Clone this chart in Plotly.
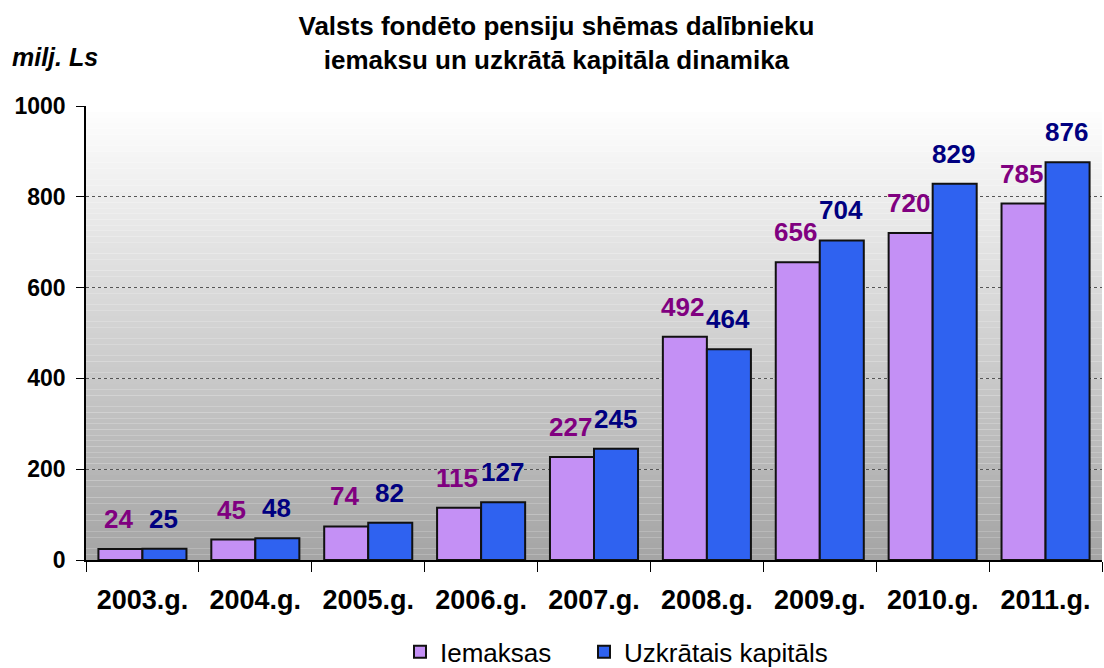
import plotly.graph_objects as go

categories = ["2003.g.", "2004.g.", "2005.g.", "2006.g.", "2007.g.", "2008.g.", "2009.g.", "2010.g.", "2011.g."]
iemaksas = [24, 45, 74, 115, 227, 492, 656, 720, 785]
kapitals = [25, 48, 82, 127, 245, 464, 704, 829, 876]
y_ticks = [0, 200, 400, 600, 800, 1000]

FONT = "Liberation Sans, Arial, sans-serif"
PURPLE_TXT = "#800080"
NAVY_TXT = "#000080"

fig = go.Figure()
fig.add_trace(go.Bar(
    x=categories, y=iemaksas, name="Iemaksas", legend="legend",
    marker=dict(color="#C490F5", line=dict(color="#111111", width=2)),
))
fig.add_trace(go.Bar(
    x=categories, y=kapitals, name="Uzkrātais kapitāls", legend="legend2",
    marker=dict(color="#2F62F0", line=dict(color="#111111", width=2)),
))

# value labels above bars
annotations = []
for cat, v in zip(categories, iemaksas):
    annotations.append(dict(
        x=cat, y=v, xref="x", yref="y", text=f"<b>{v}</b>", showarrow=False,
        xanchor="center", yanchor="bottom", xshift=-24, yshift=13,
        font=dict(family=FONT, size=26, color=PURPLE_TXT),
    ))
for cat, v in zip(categories, kapitals):
    annotations.append(dict(
        x=cat, y=v, xref="x", yref="y", text=f"<b>{v}</b>", showarrow=False,
        xanchor="center", yanchor="bottom", xshift=21, yshift=13,
        font=dict(family=FONT, size=26, color=NAVY_TXT),
    ))
annotations.append(dict(
    text="<b><i>milj. Ls</i></b>", xref="paper", yref="paper",
    x=-0.075, y=1.108, xanchor="left", yanchor="middle", showarrow=False,
    font=dict(family=FONT, size=25, color="black"),
))

# gradient background for plot area
shapes = []
n = 80
for i in range(n):
    t = i / (n - 1)
    c = int(255 - t * (255 - 165))
    shapes.append(dict(
        type="rect", xref="paper", yref="paper",
        x0=0, x1=1, y0=1 - (i + 1) / n, y1=1 - i / n,
        fillcolor=f"rgb({c},{c},{c})", line=dict(width=0), layer="below",
    ))

legend_font = dict(family=FONT, size=26, color="black")
fig.update_layout(
    width=1104, height=668,
    paper_bgcolor="white", plot_bgcolor="rgba(0,0,0,0)",
    margin=dict(l=86, r=2, t=106, b=108),
    barmode="group", bargap=0.22, bargroupgap=0,
    shapes=shapes,
    annotations=annotations,
    font=dict(family=FONT, color="black"),
    title=dict(
        text="<b>Valsts fondēto pensiju shēmas dalībnieku<br>iemaksu un uzkrātā kapitāla dinamika</b>",
        x=0.504, xanchor="center", y=0.948, yanchor="top",
        font=dict(family=FONT, size=26, color="black"),
    ),
    showlegend=True,
    legend=dict(
        orientation="h", xref="container", yref="container",
        x=0.3623, xanchor="left", y=0.024, yanchor="middle",
        font=legend_font, bgcolor="rgba(0,0,0,0)",
    ),
    legend2=dict(
        orientation="h", xref="container", yref="container",
        x=0.529, xanchor="left", y=0.024, yanchor="middle",
        font=legend_font, bgcolor="rgba(0,0,0,0)",
    ),
    xaxis=dict(
        automargin=False,
        showline=True, linecolor="black", linewidth=1.5,
        ticks="outside", tickson="boundaries", ticklen=10, tickcolor="black",
        tickfont=dict(family=FONT, size=27, color="black", weight="bold"),
        ticklabelstandoff=15,
    ),
    yaxis=dict(
        automargin=False,
        range=[0, 1000], tickvals=y_ticks,
        showline=True, linecolor="black", linewidth=1.5,
        ticks="outside", ticklen=8, tickcolor="black",
        tickfont=dict(family=FONT, size=23, color="black", weight="bold"),
        ticklabelstandoff=6,
        showgrid=True, gridcolor="#555555", griddash="dot", gridwidth=1,
        zeroline=False,
    ),
)

fig.write_html("out.html", post_script="document.body.style.margin='0';",
               config={"displayModeBar": False})
